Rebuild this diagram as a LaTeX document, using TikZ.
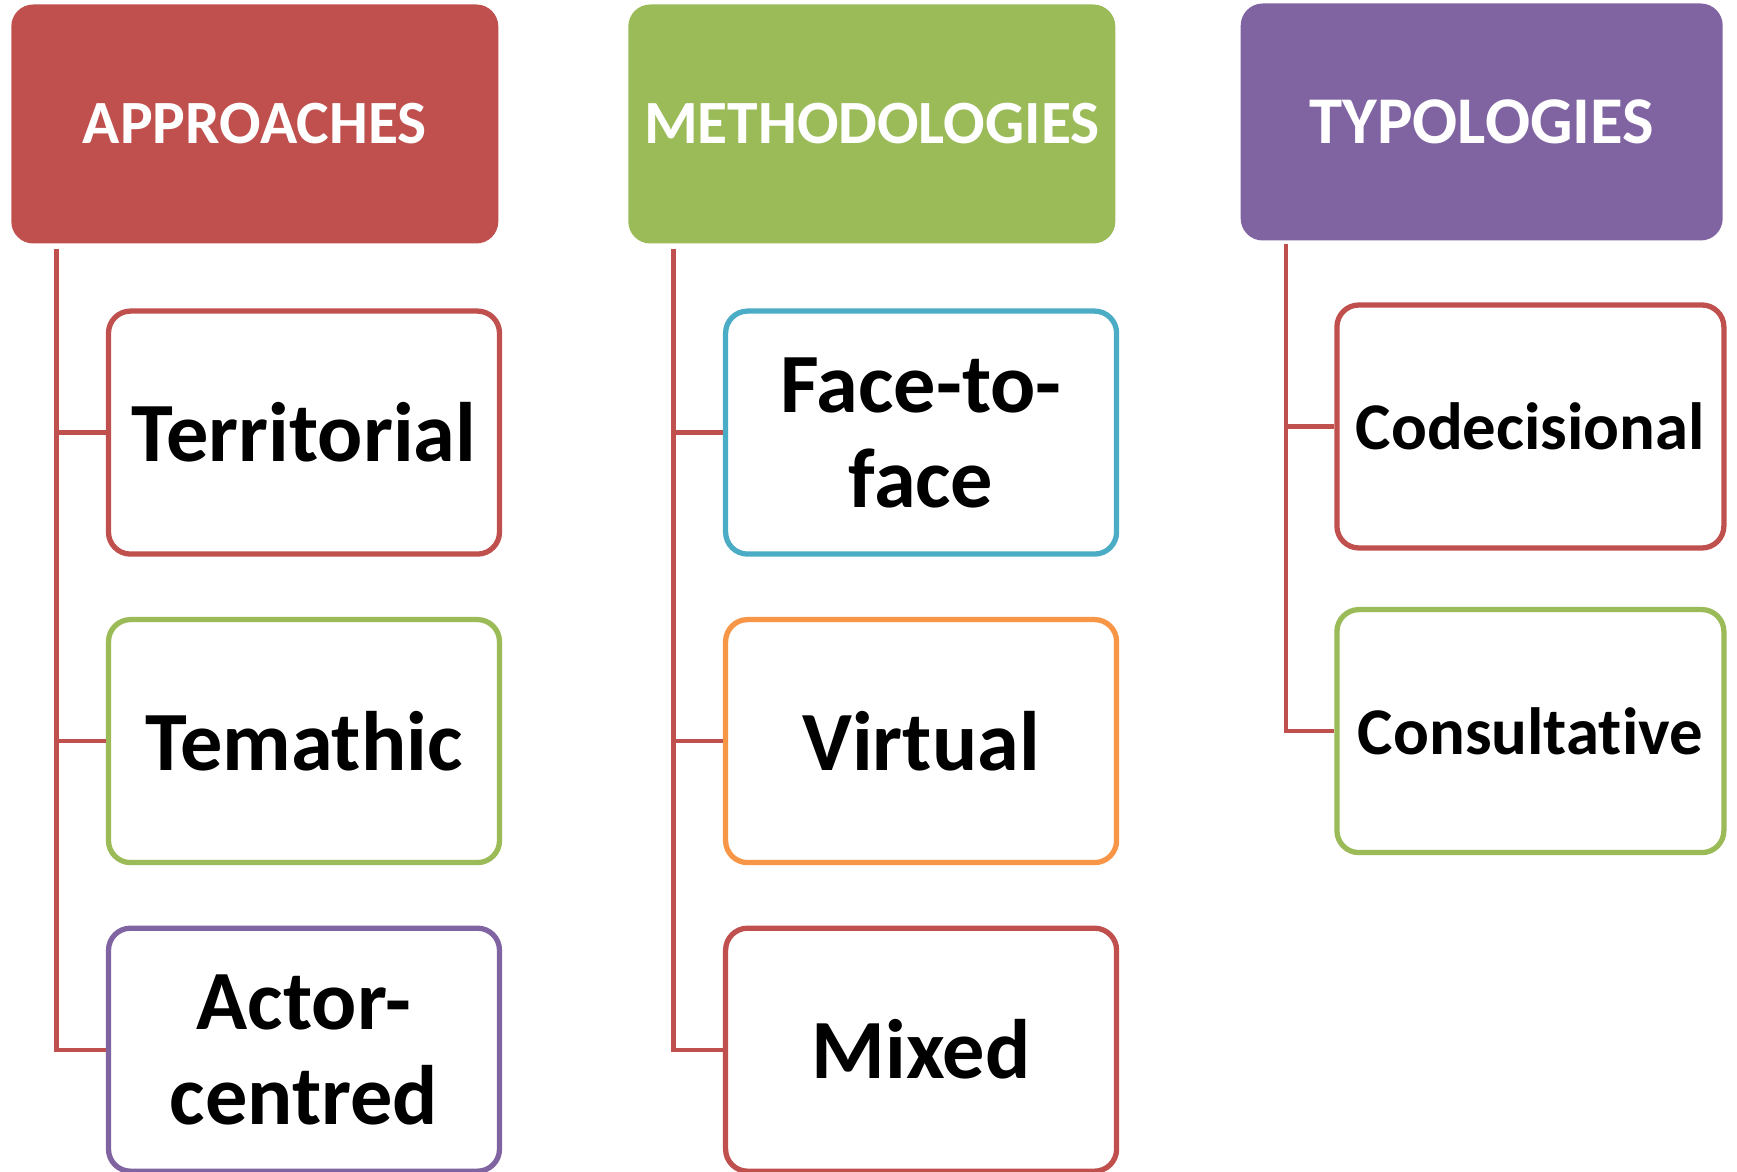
\documentclass[tikz,border=0pt]{standalone}
\usepackage{fontspec}
\setmainfont{Carlito}[Ligatures=NoCommon]
\usepackage{xcolor}
\definecolor{redbox}{HTML}{C0504D}
\definecolor{greenbox}{HTML}{9BBB59}
\definecolor{purplebox}{HTML}{8064A2}
\definecolor{bluebox}{HTML}{4BACC6}
\definecolor{orangebox}{HTML}{F79646}
\usepackage{tikz}
\usetikzlibrary{positioning}

\tikzset{
  head/.style={rounded corners=0.22cm, minimum width=4.87cm, minimum height=2.39cm,
    text=white, font=\fontsize{17.5}{21}\selectfont\bfseries, inner sep=0pt},
  item/.style={draw, line width=1.5pt, rounded corners=0.22cm, fill=white,
    minimum width=3.91cm, minimum height=2.43cm, align=center, text=black,
    font=\fontsize{24}{27}\selectfont\bfseries, inner sep=0pt},
  smallitem/.style={item, minimum width=3.87cm, font=\fontsize{19}{23}\selectfont\bfseries},
  conn/.style={redbox, line width=1.2pt}
}

\begin{document}
\begin{tikzpicture}
\useasboundingbox (0,0) rectangle (17.37,11.72);

\node (appr) at (2.548,10.48) [head, fill=redbox] {APPROACHES};
\node (meth) at (8.718,10.48) [head, fill=greenbox] {METHODOLOGIES};
\node (typo) at (14.817,10.50) [head, fill=purplebox, minimum width=4.82cm, minimum height=2.37cm,
  font=\fontsize{19}{23}\selectfont\bfseries] {TYPOLOGIES};

% approaches
\node (terr) at (3.04,7.394) [item, draw=redbox] {Territorial};
\node (tema) at (3.04,4.309) [item, draw=greenbox] {Temathic};
\node (actor) at (3.04,1.223) [item, draw=purplebox] {Actor-\\centred};
\coordinate (a0) at (0.565,9.23);
\draw[conn] (a0) |- (terr);
\draw[conn] (a0) |- (tema);
\draw[conn] (a0) |- (actor);

% methodologies
\node (face) at (9.211,7.394) [item, draw=bluebox] {Face-to-\\face};
\node (virt) at (9.211,4.309) [item, draw=orangebox] {Virtual};
\node (mixed) at (9.211,1.223) [item, draw=redbox] {Mixed};
\coordinate (m0) at (6.735,9.23);
\draw[conn] (m0) |- (face);
\draw[conn] (m0) |- (virt);
\draw[conn] (m0) |- (mixed);

% typologies
\node (codec) at (15.304,7.455) [smallitem, draw=redbox] {Codecisional};
\node (consu) at (15.304,4.409) [smallitem, draw=greenbox] {Consultative};
\coordinate (t0) at (12.862,9.283);
\draw[conn] (t0) |- (codec);
\draw[conn] (t0) |- (consu);
\end{tikzpicture}
\end{document}
